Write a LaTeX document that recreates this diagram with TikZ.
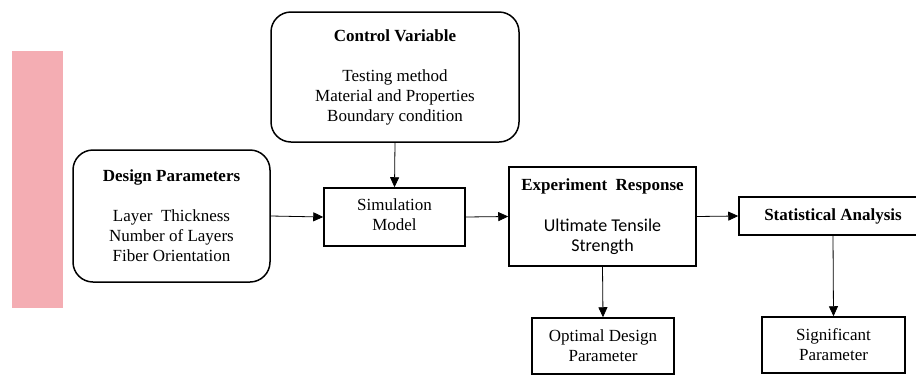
\documentclass[tikz,border=0pt]{standalone}
\usepackage{fontspec}
\setmainfont{Liberation Serif}
\newfontfamily\calibrifont{Carlito}
\usetikzlibrary{arrows.meta}
\definecolor{pinkbar}{HTML}{F4ADB3}
\tikzset{
  box/.style={draw=black, line width=1.5pt, align=center, inner sep=0pt, font=\fontsize{17}{20}\selectfont},
  roundbox/.style={box, rounded corners=20pt},
  conn/.style={draw=black, line width=0.8pt, -{Triangle[length=10pt,width=9pt]}},
}
\begin{document}
\begin{tikzpicture}[x=1pt,y=-1pt]
\useasboundingbox (0,0) rectangle (916,381);
\clip (0,0) rectangle (916,381);
\fill[pinkbar] (12,51) rectangle (63,308);

\node[roundbox, minimum width=248pt, minimum height=130pt] (cv) at (395,77)
  {\textbf{Control Variable}\\[20pt]Testing method\\Material and Properties\\Boundary condition};
\node[roundbox, minimum width=197pt, minimum height=132pt] (dp) at (171.5,216)
  {\textbf{Design Parameters}\\[20pt]Layer~ Thickness\\Number of Layers\\Fiber Orientation};
\node[box, minimum width=141pt, minimum height=58pt, text depth=4pt] (sm) at (394.5,217)
  {Simulation\\Model};
\node[box, minimum width=187pt, minimum height=99pt] (er) at (602.5,216.5)
  {\textbf{Experiment~ Response}\\[21pt]{\calibrifont\fontsize{18}{21}\selectfont Ultimate Tensile}\\{\calibrifont\fontsize{18}{21}\selectfont Strength}};
\node[box, minimum width=188pt, minimum height=38pt] (sa) at (833,216)
  {\textbf{Statistical Analysis}};
\node[box, minimum width=142pt, minimum height=56pt] (odp) at (603,346)
  {Optimal Design\\Parameter};
\node[box, minimum width=143pt, minimum height=56pt] (sp) at (833.5,345)
  {Significant\\Parameter};

\draw[conn] (cv.south) -- (sm.north);
\draw[conn] (dp.east) -- (sm.west);
\draw[conn] (sm.east) -- (er.west);
\draw[conn] (er.east) -- (sa.west);
\draw[conn] (er.south) -- (odp.north);
\draw[conn] (sa.south) -- (sp.north);
\end{tikzpicture}
\end{document}
